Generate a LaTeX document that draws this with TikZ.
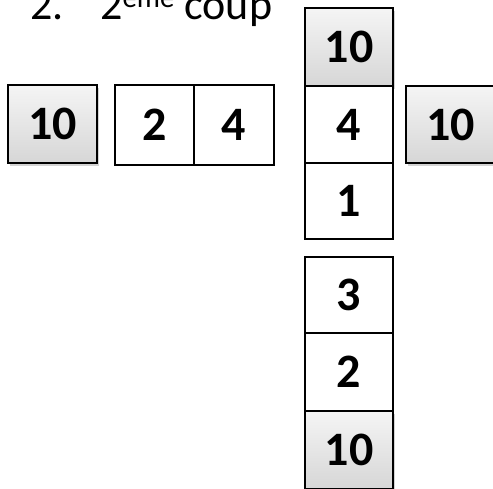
\documentclass[tikz,border=0pt]{standalone}
\usepackage{fontspec}
\setmainfont{Carlito}
\usetikzlibrary{shadows}
\begin{document}
\begin{tikzpicture}[x=1pt,y=-1pt,
  cell/.style={draw=black, line width=1.6pt, fill=white, inner sep=0pt, outer sep=0pt,
    font=\fontsize{48}{48}\selectfont\bfseries},
  graycell/.style={cell, top color=gray!8, bottom color=gray!32,
    drop shadow={opacity=0.35, shadow xshift=1.5pt, shadow yshift=-3pt}},
  title/.style={inner sep=0pt, anchor=base west, font=\fontsize{44}{44}\selectfont}]
\useasboundingbox (0,0) rectangle (493,488);
% title
\node[title] (num) at (30,19) {2.};
\node[title] (ttl) at (100,19) {2\raisebox{12pt}{\fontsize{29}{29}\selectfont ème} coup};
% left row
\node[graycell, minimum width=89pt, minimum height=78pt] (l10) at (52.5,124) {10};
\node[cell, minimum width=79pt, minimum height=80pt] (b2) at (154.5,125) {2};
\node[cell, minimum width=80pt, minimum height=80pt] (b4) at (234,125) {4};
% column
\node[graycell, minimum width=88pt, minimum height=78pt] (t10) at (349,47) {10};
\node[cell, minimum width=88pt, minimum height=77pt] (c4) at (349,124.5) {4};
\node[cell, minimum width=88pt, minimum height=76pt] (c1) at (349,201) {1};
\node[graycell, minimum width=89pt, minimum height=77pt] (r10) at (450.5,124.5) {10};
\node[cell, minimum width=88pt, minimum height=76pt] (c3) at (349,295) {3};
\node[cell, minimum width=88pt, minimum height=78pt] (c2) at (349,372) {2};
\node[graycell, minimum width=88pt, minimum height=78pt] (b10) at (349,450) {10};
\end{tikzpicture}
\end{document}
